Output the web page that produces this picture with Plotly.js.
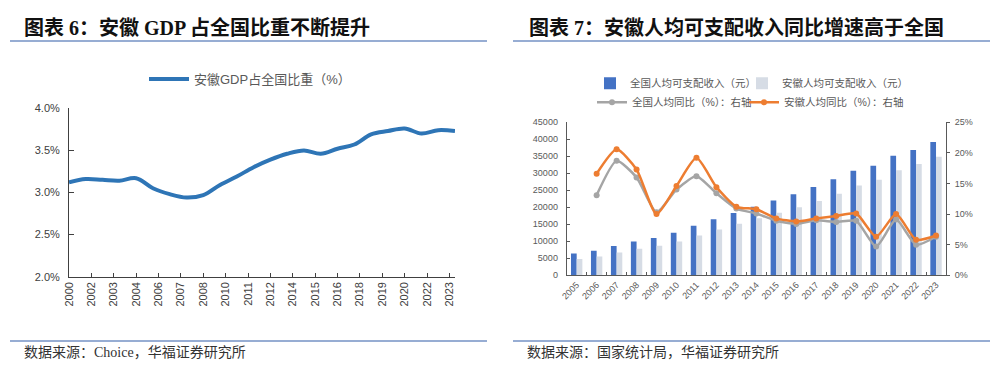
<!DOCTYPE html>
<html><head><meta charset="utf-8">
<script src="https://cdn.plot.ly/plotly-3.0.1.min.js"></script>
<style>html,body{margin:0;padding:0;background:#fff}#chart{width:1000px;height:367px}</style>
</head><body><div id="chart"></div>
<script>
// ---- Chart 6: Anhui GDP share of national total ----
const gdpYears = [2000,2001,2002,2003,2004,2005,2006,2007,2008,2009,2010,2011,2012,2013,2014,2015,2016,2017,2018,2019,2020,2021,2022,2023];
const gdpShare = [3.12,3.16,3.15,3.14,3.17,3.05,2.98,2.94,2.97,3.09,3.19,3.30,3.39,3.46,3.50,3.46,3.52,3.57,3.69,3.73,3.76,3.70,3.74,3.73];
const gdpTickLabels = ['2000','2002','2003','2004','2006','2007','2008','2010','2011','2012','2014','2015','2016','2018','2019','2020','2022','2023'];
const gdpYTicks = [2.0,2.5,3.0,3.5,4.0];
const gdpYLabels = ['2.0%','2.5%','3.0%','3.5%','4.0%'];

// ---- Chart 7: per-capita disposable income ----
const incomeYears = ['2005','2006','2007','2008','2009','2010','2011','2012','2013','2014','2015','2016','2017','2018','2019','2020','2021','2022','2023'];
const nationalIncome = [6385,7229,8584,9957,10977,12520,14551,16510,18311,20167,21966,23821,25974,28228,30733,32189,35128,36883,39218];
const anhuiIncome = [4800,5500,6700,7800,8700,9950,11700,13500,15154,16796,18363,19998,21863,23984,26415,28103,30904,32745,34893];
const nationalGrowth = [null,13.1,18.7,16.0,10.3,14.0,16.2,13.4,10.9,10.1,8.9,8.4,9.0,8.7,8.9,4.7,9.1,5.0,6.3];
const anhuiGrowth = [null,16.6,20.6,17.3,10.0,14.6,19.2,14.4,11.2,10.8,9.3,8.8,9.3,9.7,10.1,6.3,10.0,5.8,6.5];

const W = 1000, H = 367;
const px = x => x / W, py = y => 1 - y / H;
const gdpTickVals = gdpTickLabels.map((_, i) => gdpYears[0] + i * 4 / 3);

const SANS = 'Liberation Sans, Arial, Noto Sans CJK SC, sans-serif';
const SERIF = 'Liberation Serif, Noto Sans CJK SC, serif';

const traces = [
  {type:'scatter', mode:'lines', x:gdpYears, y:gdpShare, xaxis:'x', yaxis:'y',
   name:'安徽GDP占全国比重（%）', legend:'legend',
   line:{color:'#2E75B6', width:4, shape:'spline', smoothing:1}},
  {type:'bar', x:incomeYears, y:nationalIncome, xaxis:'x2', yaxis:'y2',
   name:'全国人均可支配收入（元）', legend:'legend2', marker:{color:'#4472C4'}},
  {type:'bar', x:incomeYears, y:anhuiIncome, xaxis:'x2', yaxis:'y2',
   name:'安徽人均可支配收入（元）', legend:'legend3', marker:{color:'#D6DCE5'}},
  {type:'scatter', mode:'lines+markers', x:incomeYears, y:nationalGrowth, xaxis:'x2', yaxis:'y3',
   name:'全国人均同比（%）：右轴', legend:'legend4',
   line:{color:'#A5A5A5', width:2.5, shape:'spline', smoothing:0.6}, marker:{color:'#A5A5A5', size:6}},
  {type:'scatter', mode:'lines+markers', x:incomeYears, y:anhuiGrowth, xaxis:'x2', yaxis:'y3',
   name:'安徽人均同比（%）：右轴', legend:'legend5',
   line:{color:'#ED7D31', width:2.5, shape:'spline', smoothing:0.6}, marker:{color:'#ED7D31', size:6}}
];

const axisBase = {showgrid:false, zeroline:false, showline:true, linewidth:1, fixedrange:true};
const legendBase = {xanchor:'left', yanchor:'middle', orientation:'h', bgcolor:'rgba(0,0,0,0)',
  font:{size:10.5, color:'#595959'}};

const layout = {
  width:W, height:H, margin:{l:0,r:0,t:0,b:0}, paper_bgcolor:'#fff', plot_bgcolor:'rgba(0,0,0,0)',
  font:{family:SANS},
  showlegend:true,
  barmode:'group', bargap:0.43, bargroupgap:0,
  xaxis:Object.assign({}, axisBase, {domain:[px(69), px(455)], anchor:'y', range:[2000,2023],
    tickmode:'array', tickvals:gdpTickVals, ticktext:gdpTickLabels, tickangle:-90,
    ticks:'inside', ticklen:4, tickcolor:'#404040', linecolor:'#404040',
    tickfont:{size:11, color:'#404040'}}),
  yaxis:Object.assign({}, axisBase, {domain:[py(276.7), py(108.3)], anchor:'x', range:[2,4],
    tickmode:'array', tickvals:gdpYTicks, ticktext:gdpYLabels,
    ticks:'inside', ticklen:5, tickcolor:'#404040', linecolor:'#404040',
    tickfont:{size:11, color:'#404040'}, ticklabelstandoff:6}),
  xaxis2:Object.assign({}, axisBase, {domain:[px(566.7), px(946)], anchor:'y2', type:'category',
    range:[-0.5, incomeYears.length - 0.5], tickangle:-45, ticks:'inside', ticklen:3, tickson:'boundaries',
    tickcolor:'#595959', linecolor:'#595959', tickfont:{size:9, color:'#595959'}}),
  yaxis2:Object.assign({}, axisBase, {domain:[py(275.3), py(122.3)], anchor:'x2', range:[0,45000],
    dtick:5000, tickformat:'d', ticks:'inside', ticklen:3, tickcolor:'#595959', linecolor:'#595959',
    tickfont:{size:9, color:'#595959'}, ticklabelstandoff:6}),
  yaxis3:Object.assign({}, axisBase, {overlaying:'y2', side:'right', anchor:'x2', range:[0,25],
    dtick:5, ticksuffix:'%', ticks:'outside', ticklen:3, tickcolor:'#595959', linecolor:'#595959',
    tickfont:{size:9, color:'#595959'}, ticklabelstandoff:3}),
  legend:{x:px(144), y:py(79), xanchor:'left', yanchor:'middle', orientation:'h',
    bgcolor:'rgba(0,0,0,0)', font:{size:13, color:'#595959'}, itemwidth:40},
  legend2:Object.assign({}, legendBase, {x:px(590), y:py(83.3)}),
  legend3:Object.assign({}, legendBase, {x:px(742), y:py(83.3)}),
  legend4:Object.assign({}, legendBase, {x:px(592), y:py(102.3)}),
  legend5:Object.assign({}, legendBase, {x:px(744), y:py(102.3)}),
  shapes:[
    {type:'line', xref:'paper', yref:'paper', x0:px(10), x1:px(487), y0:py(41), y1:py(41), line:{color:'#7592C4', width:1.5}},
    {type:'line', xref:'paper', yref:'paper', x0:px(513), x1:px(990), y0:py(41), y1:py(41), line:{color:'#7592C4', width:1.5}},
    {type:'line', xref:'paper', yref:'paper', x0:px(10), x1:px(487), y0:py(341), y1:py(341), line:{color:'#7592C4', width:1.5}},
    {type:'line', xref:'paper', yref:'paper', x0:px(513), x1:px(990), y0:py(341), y1:py(341), line:{color:'#7592C4', width:1.5}}
  ],
  annotations:[
    {xref:'paper', yref:'paper', x:px(22), y:py(27.5), xanchor:'left', yanchor:'middle', showarrow:false,
     text:'<b>图表 6：安徽 GDP 占全国比重不断提升</b>', font:{family:SERIF, size:20, color:'#111'}},
    {xref:'paper', yref:'paper', x:px(527), y:py(27.5), xanchor:'left', yanchor:'middle', showarrow:false,
     text:'<b>图表 7：安徽人均可支配收入同比增速高于全国</b>', font:{family:SERIF, size:20, color:'#111'}},
    {xref:'paper', yref:'paper', x:px(22), y:py(352), xanchor:'left', yanchor:'middle', showarrow:false,
     text:'数据来源：Choice，华福证券研究所', font:{family:SERIF, size:14, color:'#333'}},
    {xref:'paper', yref:'paper', x:px(525), y:py(352), xanchor:'left', yanchor:'middle', showarrow:false,
     text:'数据来源：国家统计局，华福证券研究所', font:{family:SERIF, size:14, color:'#333'}}
  ]
};

Plotly.newPlot('chart', traces, layout, {staticPlot:true, displayModeBar:false});
</script>
</body></html>
